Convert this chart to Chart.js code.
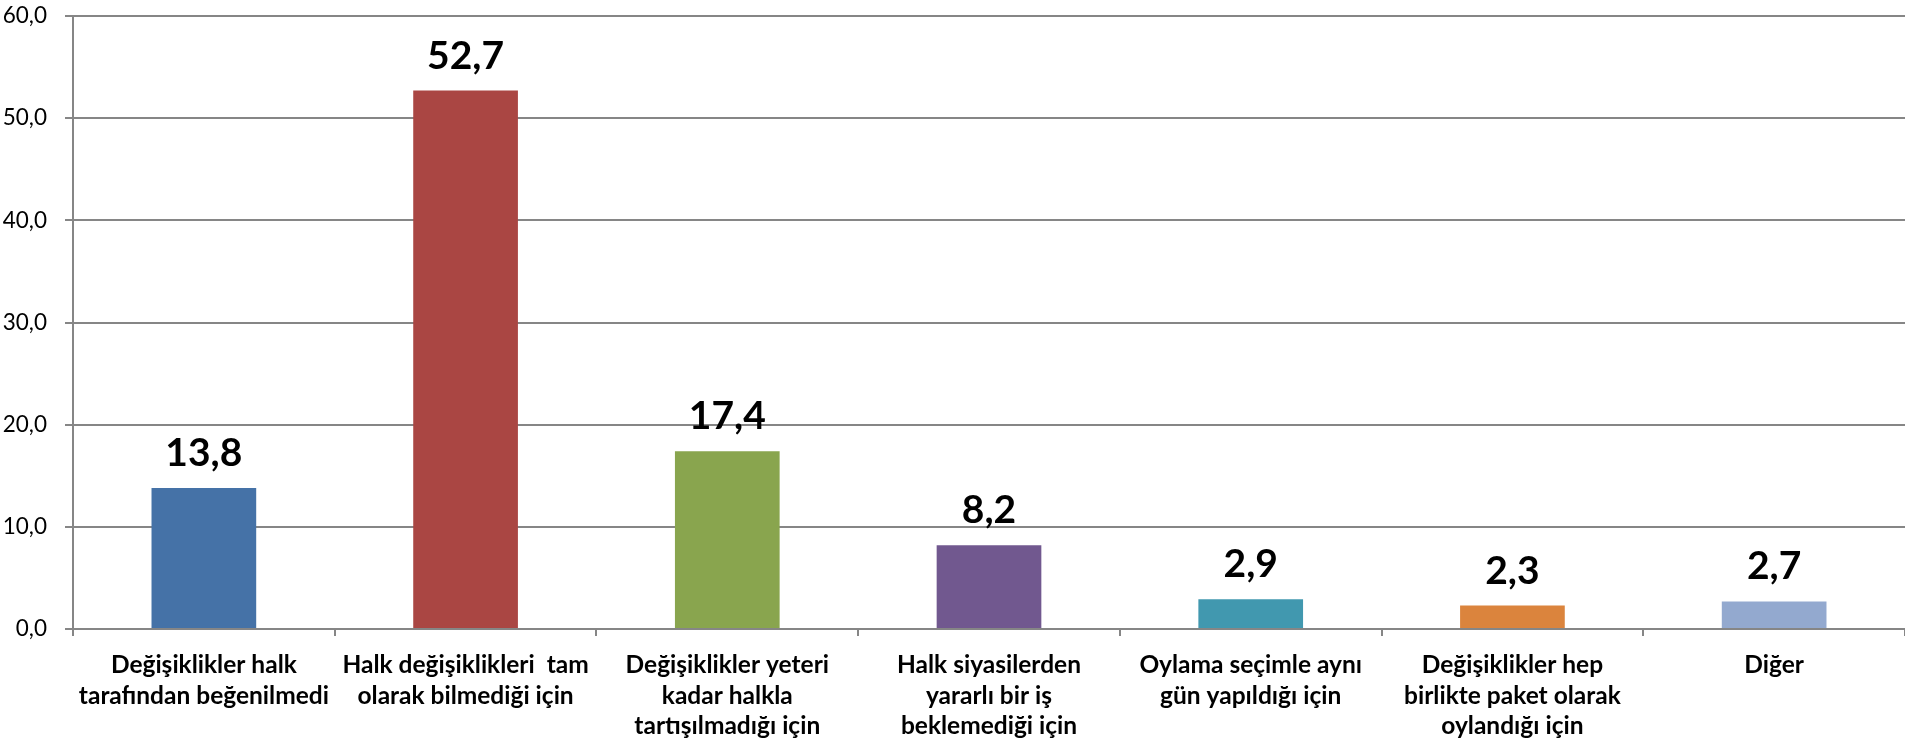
<!DOCTYPE html>
<html>
<head>
<meta charset="utf-8">
<script src="https://cdn.jsdelivr.net/npm/chart.js@4/dist/chart.umd.min.js"></script>
<style>
body{margin:0;background:#fff;}
#wrap{width:1905px;height:742px;}
</style>
</head>
<body>
<div id="wrap"><canvas id="bars"></canvas></div>
<script>
const categories=[
    ["Değişiklikler halk","tarafından beğenilmedi"],
    ["Halk değişiklikleri  tam","olarak bilmediği için"],
    ["Değişiklikler yeteri","kadar halkla","tartışılmadığı için"],
    ["Halk siyasilerden","yararlı bir iş","beklemediği için"],
    ["Oylama seçimle aynı","gün yapıldığı için"],
    ["Değişiklikler hep","birlikte paket olarak","oylandığı için"],
    ["Diğer"]
];
const values=[13.8,52.7,17.4,8.2,2.9,2.3,2.7];
const barColors=["#4572A7","#AA4643","#89A54E","#71588F","#4198AF","#DB843D","#93A9CF"];
const yTicks=[0,10,20,30,40,50,60];

const fmt=v=>v.toFixed(1).replace('.',',');

// draws the value above each bar
const valueLabels={
    id:'valueLabels',
    afterDatasetsDraw(chart){
        const ctx=chart.ctx;
        const meta=chart.getDatasetMeta(0);
        ctx.save();
        ctx.font="bold 39px Lato";
        ctx.fillStyle="#000";
        ctx.textAlign="center";
        ctx.textBaseline="alphabetic";
        meta.data.forEach((bar,i)=>{
            ctx.fillText(fmt(values[i]),bar.x,bar.y-22);
        });
        ctx.restore();
    }
};

const chart=document.getElementById("bars");
let canvas=new Chart(chart,{
    type:'bar',
    data:{
        labels:categories,
        datasets:[{
            data:values,
            backgroundColor:barColors,
            borderWidth:0,
            barPercentage:0.4,
            categoryPercentage:1.0
        }]
    },
    plugins:[valueLabels],
    options:{
        responsive:true,
        maintainAspectRatio:false,
        animation:false,
        layout:{padding:{top:16,right:0,left:0,bottom:0}},
        plugins:{legend:{display:false},tooltip:{enabled:false}},
        scales:{
            x:{
                afterFit(s){s.height=113;},
                grid:{
                    drawOnChartArea:false,
                    drawTicks:true,
                    tickLength:7,
                    color:"#868686",
                    lineWidth:2
                },
                border:{color:"#868686",width:2},
                ticks:{
                    color:"#000",
                    padding:14,
                    maxRotation:0,
                    autoSkip:false,
                    font:{family:"Lato",size:24.5,weight:"bold",lineHeight:1.25}
                }
            },
            y:{
                min:0,
                max:60,
                afterFit(s){s.width=73;s.paddingTop=0;s.paddingBottom=0;},
                afterBuildTicks(s){s.ticks=yTicks.map(v=>({value:v}));},
                grid:{
                    color:"#868686",
                    lineWidth:2,
                    tickLength:8
                },
                border:{color:"#868686",width:2},
                ticks:{
                    color:"#000",
                    padding:18,
                    font:{family:"Lato",size:22.5},
                    callback:v=>fmt(v)
                }
            }
        }
    }
});
</script>
</body>
</html>
